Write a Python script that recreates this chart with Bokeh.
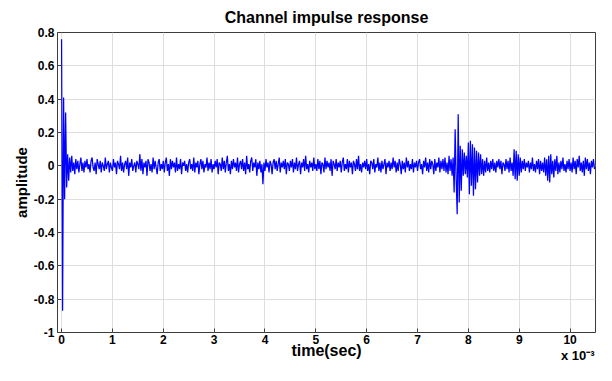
import numpy as np
from bokeh.plotting import figure
from bokeh.models import Range1d, FixedTicker, LinearAxis
from bokeh.embed import file_html
from bokeh.resources import INLINE

title_text = "Channel impulse response"
x_label = "time(sec)"
y_label = "amplitude"
x_scale_text = "x 10\u207b\u00b3"

# sampling step of the trace, in units of 1e-3 s
t_step = 0.02

# amplitude, in hundredths, 25 samples (0.5e-3 s) per row
amp_centi = [
    76, -87, 41, -20, 32, -13, 7, -9, 5, -4, 6, -3, 2, -5, 4, -2, 3, -4, 1, 5, -3, 2, -4, 3, -1,
    4, -2, 1, -4, 3, 5, -1, -3, 2, -5, 4, 1, -2, 3, -4, 2, 0, -3, 5, -2, 1, 3, -4, 2, -1,
    -3, 4, -1, 2, -5, 3, 1, -2, 6, -3, 2, -4, 1, 3, -2, 5, -6, 2, -1, 4, -3, 0, 2, -4, 3,
    1, -2, 7, -3, 4, -5, 2, -1, 3, -6, 4, 2, -3, 1, -4, 5, -2, 3, -1, -5, 2, 4, -3, 1, -2,
    3, -4, 2, 5, -3, 1, -6, 4, -2, 3, -1, 2, -4, 5, -3, 1, -2, 4, -5, 2, 0, 3, -3, 1, -4,
    2, 4, -2, 1, -3, 5, -4, 2, -1, 3, -5, 1, 4, -2, 3, -4, 1, -1, 5, -3, 2, -2, 4, -4, 1,
    -2, 3, -1, 4, -5, 2, 1, -3, 5, -2, 3, -4, 2, 6, -3, 1, -5, 3, -2, 4, -1, 2, -3, 5, -4,
    1, 3, -2, 4, -3, 2, -5, 6, -2, 1, -4, 3, 5, -3, 2, -1, 4, -6, 2, -2, 3, -4, 1, -11, 2,
    -3, 4, -1, 2, -4, 3, 1, -5, 2, 4, -2, 3, -3, 1, 5, -4, 2, -1, 3, -2, 4, -5, 2, 1, -3,
    3, -1, 4, -4, 2, -2, 5, -3, 1, 3, -5, 2, -1, 4, -3, 6, -2, 1, -4, 3, -1, 2, -3, 5, -2,
    1, -3, 4, -2, 3, -5, 2, 1, -4, 5, -2, 3, -1, 2, -3, 4, -6, 3, 1, -2, 4, -3, 2, -1, 3,
    -4, 2, 5, -3, 1, -2, 4, -4, 3, -1, 2, -5, 3, 1, -3, 4, -2, 6, -3, 1, -4, 2, -1, 3, -2,
    4, -3, 1, -5, 3, 2, -2, 4, -4, 1, -1, 5, -3, 2, -4, 3, -2, 1, 4, -5, 2, -1, 3, -3, 2,
    -2, 5, -1, 3, -4, 2, -3, 4, 1, -5, 3, -2, 2, -4, 5, -1, 3, -3, 1, -2, 4, -4, 2, -1, 3,
    -3, 2, 4, -2, 1, -5, 3, -1, 5, -3, 2, -4, 4, -2, 3, 1, -5, 4, -3, 2, -1, 5, -4, 3, -2,
    4, -3, 5, -4, 2, -5, 6, -3, 4, -6, 5, -16, 22, -8, -29, 31, -22, 12, -15, 10, -6, 8, -5, 6, -7,
    14, -17, 15, -12, 13, -18, 11, -14, 9, -10, 8, -6, 7, -5, 4, -6, 3, -4, 5, -3, 2, -4, 3, -2, 4,
    -3, 2, -4, 3, -1, 4, -2, 3, -5, 2, 1, -3, 4, -2, 3, -4, 5, -3, 2, -6, 10, -8, 9, -9, 7,
    -6, 5, -4, 3, -2, 4, -3, 2, -1, 3, -4, 2, -2, 5, -3, 1, -4, 3, -2, 4, -5, 3, -3, 2, -4,
    5, -6, 4, -9, 6, -10, 7, -5, 3, -7, 4, -3, 6, -5, 2, -4, 3, -2, 5, -3, 1, -4, 3, -2, 4,
    -3, 2, -4, 5, -2, 3, -5, 4, -1, 6, -3, 2, -4, 3, -6, 5, -2, 4, -3, 2, -5, 3, -1, 4, -2,
]

x_ticks = [0, 1, 2, 3, 4, 5, 6, 7, 8, 9, 10]
y_ticks = [-1, -0.8, -0.6, -0.4, -0.2, 0, 0.2, 0.4, 0.6, 0.8]
y_tick_labels = ["-1", "-0.8", "-0.6", "-0.4", "-0.2", "0", "0.2", "0.4", "0.6", "0.8"]
x_scale_pos = 10.15

amp = np.array(amp_centi, dtype=float) / 100.0
t = np.arange(len(amp)) * t_step

FONT = "Liberation Sans"

p = figure(width=596, height=365, output_backend="svg", toolbar_location=None,
           x_range=Range1d(-0.08, 10.5), y_range=Range1d(-1, 0.8),
           min_border_left=57, min_border_right=1, min_border_top=31, min_border_bottom=0,
           background_fill_color="white", border_fill_color="white")

p.title.text = title_text
p.title.align = "center"
p.title.text_font = FONT
p.title.text_font_size = "16px"
p.title.text_font_style = "bold"
p.title.text_color = "black"
p.title.standoff = 13

p.line(t, amp, line_color="#0000ff", line_width=1.25)

p.outline_line_color = "#3c3c3c"
p.outline_line_width = 1

for ax in (p.xaxis[0], p.yaxis[0]):
    ax.axis_line_color = None
    ax.major_tick_in = 4
    ax.major_tick_out = 0
    ax.minor_tick_in = 0
    ax.minor_tick_out = 0
    ax.major_tick_line_color = "#3c3c3c"
    ax.major_label_text_font = FONT
    ax.major_label_text_font_size = "12px"
    ax.major_label_text_font_style = "bold"
    ax.major_label_text_color = "black"
    ax.axis_label_text_font = FONT
    ax.axis_label_text_font_style = "bold"
    ax.axis_label_text_color = "black"

p.xaxis.ticker = FixedTicker(ticks=x_ticks)
p.xaxis.major_label_standoff = 2
p.xaxis.axis_label = x_label
p.xaxis.axis_label_text_font_size = "16px"
p.xaxis.axis_label_standoff = -5

p.yaxis.ticker = FixedTicker(ticks=y_ticks)
p.yaxis.major_label_overrides = {v: s for v, s in zip(y_ticks, y_tick_labels)}
p.yaxis.major_label_standoff = 3
p.yaxis.axis_label = y_label
p.yaxis.axis_label_text_font_size = "15px"
p.yaxis.axis_label_standoff = 1

# multiplier text for the time axis, placed as a label-only axis under the first one
scale_axis = LinearAxis(ticker=FixedTicker(ticks=[x_scale_pos]),
                        major_label_overrides={x_scale_pos: x_scale_text},
                        axis_line_color=None, major_tick_line_color=None,
                        minor_tick_line_color=None,
                        major_tick_in=0, major_tick_out=0,
                        minor_tick_in=0, minor_tick_out=0,
                        major_label_standoff=-14,
                        major_label_text_font=FONT, major_label_text_font_size="13px",
                        major_label_text_font_style="bold", major_label_text_color="black")
p.add_layout(scale_axis, "below")

p.xgrid.ticker = FixedTicker(ticks=x_ticks)
p.ygrid.ticker = FixedTicker(ticks=y_ticks)
p.grid.grid_line_color = "#dedede"
p.grid.grid_line_width = 1

open("out.html", "w").write(file_html(p, INLINE))
